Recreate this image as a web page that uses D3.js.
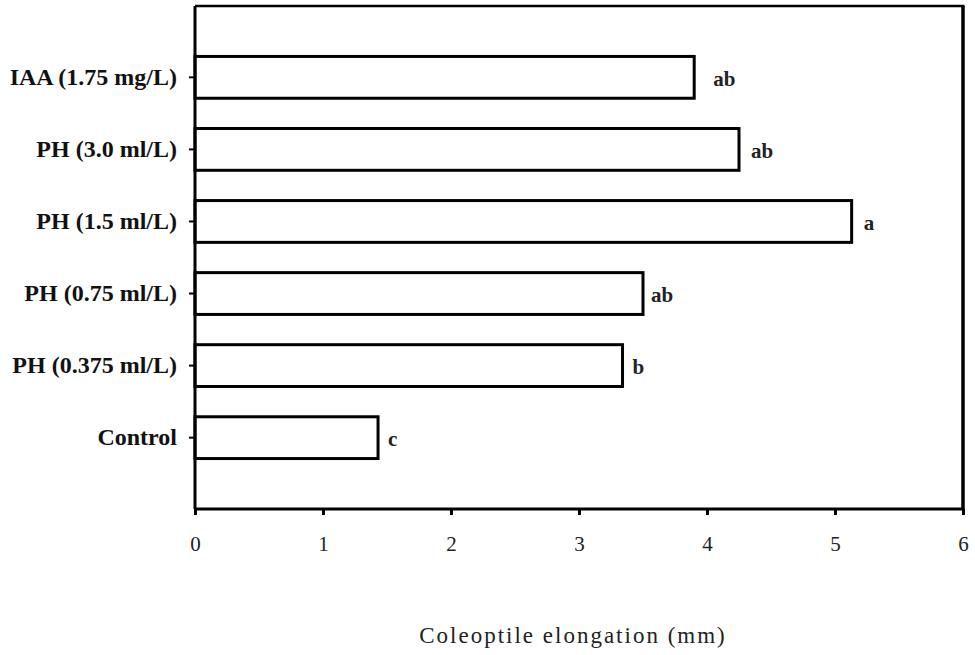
<!DOCTYPE html>
<html><head><meta charset="utf-8">
<script src="https://cdn.jsdelivr.net/npm/d3@7"></script>
<style>body{margin:0;background:#fff}svg{display:block}</style>
</head><body>
<script>
const categories = ["IAA (1.75 mg/L)", "PH (3.0 ml/L)", "PH (1.5 ml/L)", "PH (0.75 ml/L)", "PH (0.375 ml/L)", "Control"];
const values = [3.9, 4.25, 5.13, 3.5, 3.34, 1.43];
const letters = ["ab", "ab", "a", "ab", "b", "c"];
const xTicks = [0, 1, 2, 3, 4, 5, 6];
const xTitle = "Coleoptile elongation (mm)";

const W = 975, H = 655;
const m = {left: 195, right: 12, top: 6, bottom: 146};
const svg = d3.select("body").append("svg").attr("width", W).attr("height", H);

const x = d3.scaleLinear().domain([0, 6]).range([m.left, W - m.right]);
const y = d3.scaleBand().domain(categories).range([m.top, H - m.bottom])
  .paddingInner(0.42).paddingOuter(0.7);

// frame top and right
svg.append("line").attr("x1", x(0)).attr("x2", x(6) + 1.5).attr("y1", m.top).attr("y2", m.top)
  .attr("stroke", "#000").attr("stroke-width", 2.5);
svg.append("line").attr("x1", x(6)).attr("x2", x(6)).attr("y1", m.top).attr("y2", H - m.bottom)
  .attr("stroke", "#000").attr("stroke-width", 3.5);

// bars
svg.selectAll("rect.bar").data(categories).join("rect")
  .attr("class", "bar")
  .attr("x", x(0))
  .attr("y", d => y(d))
  .attr("width", (d, i) => x(values[i]) - x(0))
  .attr("height", y.bandwidth())
  .attr("fill", "#fff").attr("stroke", "#000").attr("stroke-width", 3);

// letters
const off = [19, 12, 12, 8, 10, 10];
svg.selectAll("text.lt").data(categories).join("text")
  .attr("class", "lt")
  .attr("x", (d, i) => x(values[i]) + off[i])
  .attr("y", d => y(d) + y.bandwidth() / 2 + 4)
  .attr("dominant-baseline", "middle")
  .attr("font-family", "Liberation Serif, serif")
  .attr("font-weight", "bold")
  .attr("font-size", 21)
  .attr("fill", "#222")
  .text((d, i) => letters[i]);

// x axis
const gx = svg.append("g").attr("transform", `translate(0,${H - m.bottom})`)
  .call(d3.axisBottom(x).tickValues(xTicks).tickFormat(d3.format("d")).tickSize(6).tickPadding(21));
gx.select(".domain").attr("stroke-width", 3).attr("d", `M${x(0)},0H${x(6)}`);
gx.selectAll(".tick line").attr("stroke-width", 3);
gx.selectAll(".tick text").attr("font-family", "Liberation Serif, serif").attr("font-size", 21).attr("fill", "#222");

// y axis
const gy = svg.append("g").attr("transform", `translate(${m.left},0)`)
  .call(d3.axisLeft(y).tickSize(6).tickPadding(12));
gy.select(".domain").attr("stroke-width", 3).attr("d", `M0,${m.top}V${H - m.bottom}`);
gy.selectAll(".tick line").attr("stroke-width", 2);
gy.selectAll(".tick text").attr("font-family", "Liberation Serif, serif").attr("font-weight", "bold")
  .attr("font-size", 24).attr("fill", "#111");

// x title
svg.append("text").attr("x", 573).attr("y", 643)
  .attr("text-anchor", "middle")
  .attr("font-family", "Liberation Serif, serif")
  .attr("font-size", 23).attr("letter-spacing", 2).attr("fill", "#222")
  .text(xTitle);
</script>
</body></html>
